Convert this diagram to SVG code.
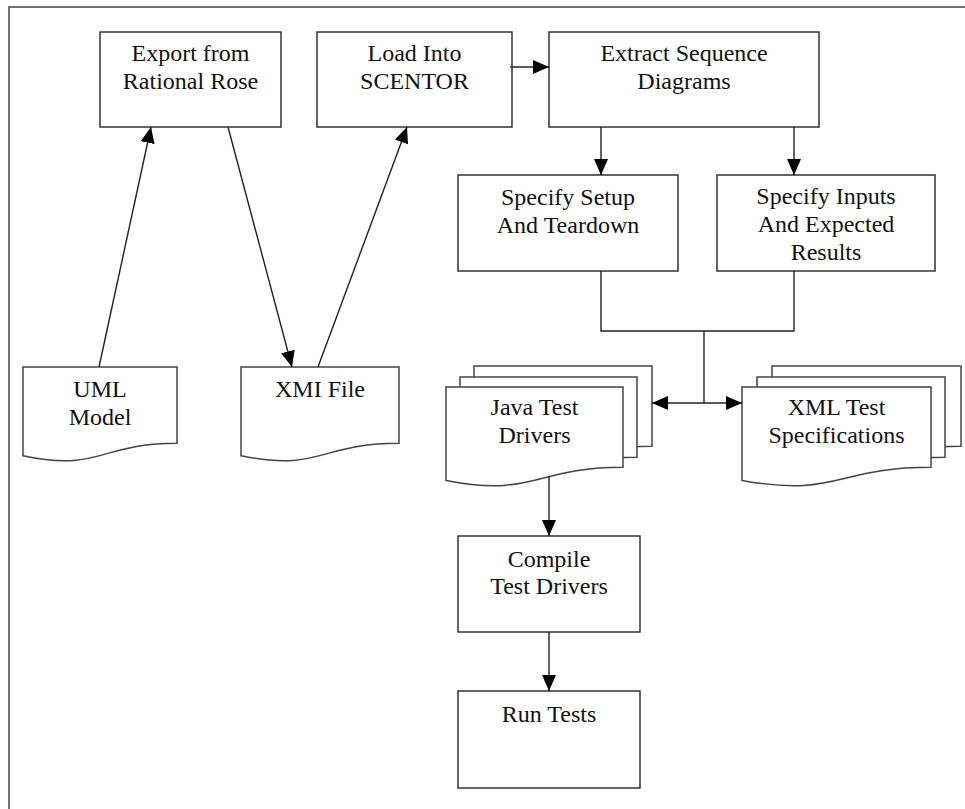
<svg xmlns="http://www.w3.org/2000/svg" width="965" height="809" viewBox="0 0 965 809">
<style>
.box{fill:#fff;stroke:#333;stroke-width:1.5}
.doc{fill:#fff;stroke:#444;stroke-width:1.5}
.t{font-family:"Liberation Serif","Times New Roman",serif;font-size:24px;fill:#111;text-anchor:middle}
.c{fill:none;stroke:#222;stroke-width:1.4}
.frame{fill:none;stroke:#444;stroke-width:1.5}
</style>
<defs>
<marker id="ah" markerUnits="userSpaceOnUse" markerWidth="16" markerHeight="14" refX="16" refY="7" orient="auto">
<path d="M0,0 L16,7 L0,14 Z" fill="#000"/>
</marker>
</defs>
<rect width="965" height="809" fill="#fff"/>
<rect class="frame" x="9" y="7" width="970" height="820"/>

<g id="export">
<rect class="box" x="100" y="32" width="181" height="95"/>
<text class="t" x="190.5" y="61">Export from</text>
<text class="t" x="190.5" y="89">Rational Rose</text>
</g>
<g id="load">
<rect class="box" x="317" y="32" width="195" height="95"/>
<text class="t" x="414.5" y="61">Load Into</text>
<text class="t" x="414.5" y="89">SCENTOR</text>
</g>
<g id="extract">
<rect class="box" x="549" y="32" width="270" height="95"/>
<text class="t" x="684" y="61">Extract Sequence</text>
<text class="t" x="684" y="89">Diagrams</text>
</g>
<g id="setup">
<rect class="box" x="458" y="175" width="220" height="96"/>
<text class="t" x="568" y="205">Specify Setup</text>
<text class="t" x="568" y="233">And Teardown</text>
</g>
<g id="inputs">
<rect class="box" x="717" y="175" width="218" height="96"/>
<text class="t" x="826" y="204">Specify Inputs</text>
<text class="t" x="826" y="232">And Expected</text>
<text class="t" x="826" y="260">Results</text>
</g>
<g id="uml">
<path class="doc" d="M23,367 H177 V443.2 C100,443.2 100,472.2 23,455.7 Z"/>
<text class="t" x="100" y="397">UML</text>
<text class="t" x="100" y="425">Model</text>
</g>
<g id="xmi">
<path class="doc" d="M241,367 H399 V443.2 C320,443.2 320,472.2 241,455.7 Z"/>
<text class="t" x="320" y="397">XMI File</text>
</g>
<g id="java">
<path class="doc" d="M474,366 H652 V446.2 C563,446.2 563,476.75 474,459.4 Z"/>
<path class="doc" d="M460,377 H637 V457.2 C548.5,457.2 548.5,487.75 460,470.4 Z"/>
<path class="doc" d="M446,387 H623 V467.2 C534.5,467.2 534.5,497.75 446,480.4 Z"/>
<text class="t" x="534.5" y="415">Java Test</text>
<text class="t" x="534.5" y="443">Drivers</text>
</g>
<g id="xml">
<path class="doc" d="M772,366 H961 V446.2 C866.5,446.2 866.5,476.75 772,459.4 Z"/>
<path class="doc" d="M757,377 H945 V457.2 C851,457.2 851,487.75 757,470.4 Z"/>
<path class="doc" d="M742,387 H931 V467.2 C836.5,467.2 836.5,497.75 742,480.4 Z"/>
<text class="t" x="836.5" y="415">XML Test</text>
<text class="t" x="836.5" y="443">Specifications</text>
</g>
<g id="compile">
<rect class="box" x="458" y="536" width="182" height="96"/>
<text class="t" x="549" y="567">Compile</text>
<text class="t" x="549" y="594">Test Drivers</text>
</g>
<g id="run">
<rect class="box" x="458" y="691" width="182" height="97"/>
<text class="t" x="549" y="722">Run Tests</text>
</g>

<g id="connectors">
<line class="c" x1="99" y1="367" x2="151" y2="127" marker-end="url(#ah)"/>
<line class="c" x1="228" y1="127" x2="292" y2="367" marker-end="url(#ah)"/>
<line class="c" x1="318" y1="367" x2="407" y2="127" marker-end="url(#ah)"/>
<line class="c" x1="510" y1="67" x2="549" y2="67" marker-end="url(#ah)"/>
<line class="c" x1="601" y1="127" x2="601" y2="175" marker-end="url(#ah)"/>
<line class="c" x1="794" y1="127" x2="794" y2="175" marker-end="url(#ah)"/>
<polyline class="c" points="601,271 601,331 794,331 794,271"/>
<line class="c" x1="704" y1="331" x2="704" y2="403"/>
<line class="c" x1="704" y1="403" x2="652" y2="403" marker-end="url(#ah)"/>
<line class="c" x1="704" y1="403" x2="742" y2="403" marker-end="url(#ah)"/>
<line class="c" x1="549" y1="476" x2="549" y2="536" marker-end="url(#ah)"/>
<line class="c" x1="549" y1="632" x2="549" y2="691" marker-end="url(#ah)"/>
</g>
</svg>
